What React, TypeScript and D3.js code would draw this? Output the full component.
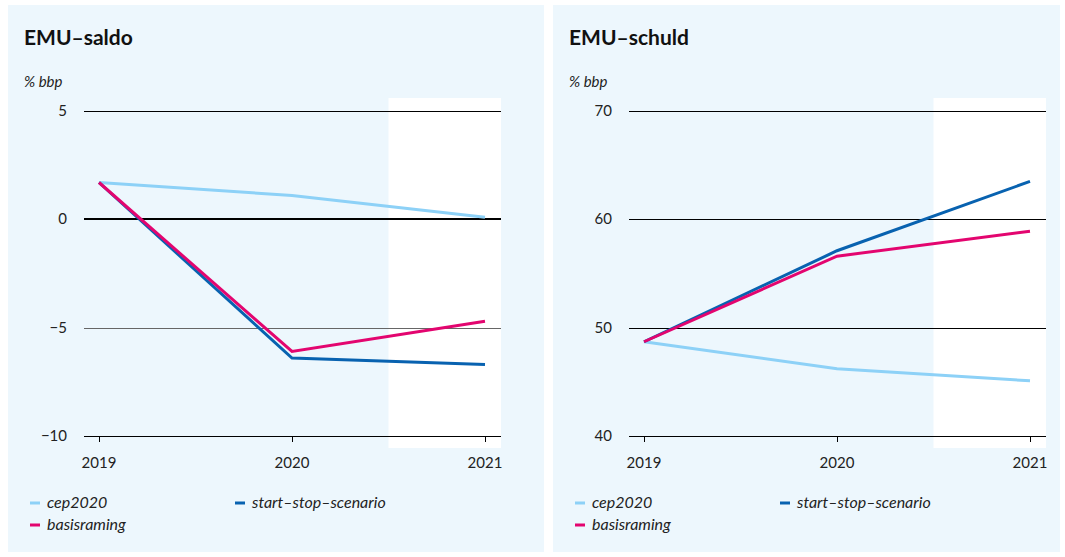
import React from 'react';
import * as d3 from 'd3';

const years = [2019, 2020, 2021];
const seriesNames = ['cep2020', 'start-stop-scenario', 'basisraming'];
const seriesColors = ['#8dd1f7', '#0862b0', '#e3056f'];

const saldoCep = [1.7, 1.1, 0.1];
const saldoStartStop = [1.7, -6.4, -6.7];
const saldoBasis = [1.7, -6.1, -4.7];
const saldoTicks = [5, 0, -5, -10];

const schuldCep = [48.7, 46.2, 45.1];
const schuldStartStop = [48.7, 57.1, 63.5];
const schuldBasis = [48.7, 56.6, 58.9];
const schuldTicks = [70, 60, 50, 40];

const FONT = 'Lato, "Open Sans", sans-serif';

interface PanelProps {
  x0: number;
  w: number;
  title: string;
  domain: [number, number];
  ticks: number[];
  series: number[][];
  zero?: number;
}

const Panel: React.FC<PanelProps> = ({ x0, w, title, domain, ticks, series, zero }) => {
  const left = x0 + 76;
  const right = x0 + 493;
  const x = d3.scaleLinear().domain([2019, 2021]).range([left + 15, right - 16]);
  const y = d3.scaleLinear().domain(domain).range([436, 111]);
  const line = d3.line<number>().x((_, i) => x(years[i])).y(d => y(d));
  const fcStart = x(2020.5);

  return (
    <g>
      <rect x={x0} y={5} width={w} height={547} fill="#edf7fd" />
      <rect x={fcStart} y={98} width={right - fcStart} height={350} fill="#ffffff" />
      <text x={x0 + 16} y={45} fontFamily={FONT} fontWeight="bold" fontSize={21} fill="#111">{title}</text>
      <text x={x0 + 16} y={87} fontFamily={FONT} fontStyle="italic" fontSize={15} fill="#222">% bbp</text>
      {ticks.map(t => {
        const isZero = t === zero;
        const yy = isZero ? Math.round(y(t)) : Math.round(y(t)) + 0.5;
        return (
          <g key={t}>
            <line x1={left} x2={right} y1={yy} y2={yy}
              stroke={t === ticks[2] && zero !== undefined ? '#666' : '#000'}
              strokeWidth={isZero ? 2 : 1} />
            <text x={left - 17} y={y(t) + 5} textAnchor="end" fontFamily={FONT} fontSize={15} fill="#222">
              {t < 0 ? `\u2212${Math.abs(t)}` : t}
            </text>
          </g>
        );
      })}
      {years.map(yr => (
        <g key={yr}>
          <line x1={Math.round(x(yr)) + 0.5} x2={Math.round(x(yr)) + 0.5} y1={437} y2={442} stroke="#000" />
          <text x={x(yr)} y={468} textAnchor="middle" fontFamily={FONT} fontSize={15} fill="#222">{yr}</text>
        </g>
      ))}
      {series.map((s, i) => (
        <path key={i} d={line(s) || ''} fill="none" stroke={seriesColors[i]} strokeWidth={3} />
      ))}
      {seriesNames.map((n, i) => {
        const lx = x0 + 22 + (i === 1 ? 205 : 0);
        const ly = i === 2 ? 525 : 503;
        return (
          <g key={n}>
            <line x1={lx} x2={lx + 10} y1={ly} y2={ly} stroke={seriesColors[i]} strokeWidth={3} />
            <text x={lx + 17} y={ly + 5} fontFamily={FONT} fontStyle="italic" fontSize={16} fill="#222">{n.replace(/-/g, '\u2013')}</text>
          </g>
        );
      })}
    </g>
  );
};

export default function App() {
  return (
    <svg width={1065} height={557} style={{ position: 'absolute', left: 0, top: 0, display: 'block' }}>
      <rect x={0} y={0} width={1065} height={557} fill="#fff" />
      <Panel x0={8} w={536} title="EMU–saldo" domain={[-10, 5]} ticks={saldoTicks}
        series={[saldoCep, saldoStartStop, saldoBasis]} zero={0} />
      <Panel x0={553} w={507} title="EMU–schuld" domain={[40, 70]} ticks={schuldTicks}
        series={[schuldCep, schuldStartStop, schuldBasis]} />
    </svg>
  );
}
